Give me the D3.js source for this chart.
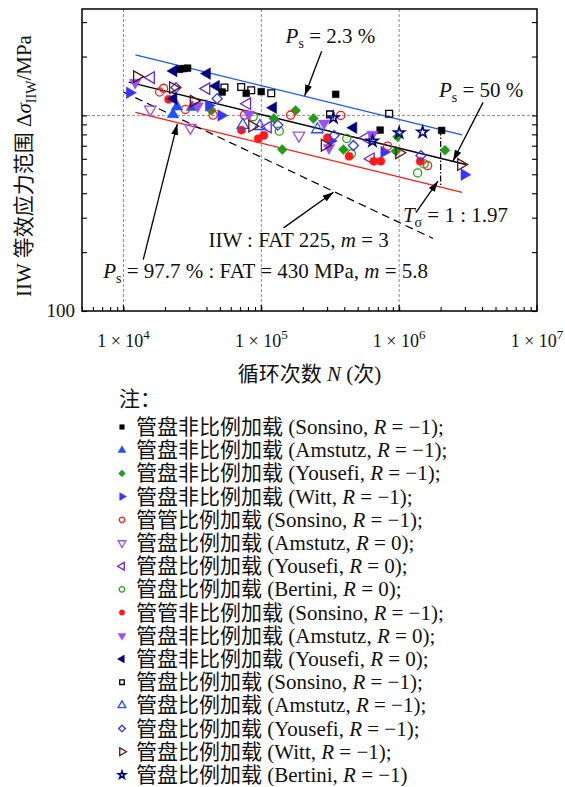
<!DOCTYPE html>
<html><head><meta charset="utf-8">
<script src="https://cdn.jsdelivr.net/npm/d3@7"></script>
<style>body{margin:0;background:#fff}svg{display:block}</style>
</head><body><svg id="c" width="565" height="787"></svg>
<script>
// ---------------- data (N cycles, equivalent stress range MPa) ----------------
const sonsinoNP_TF = [[25500,1720],[27300,1735],[29200,1745],[51950,1317],[77670,1297],[99840,1323],[346400,1282],[727500,841],[2034000,838]];
const amstutzNP_R1 = [[24460,1108],[22870,1012],[31440,1103]];
const yousefiNP_R1 = [[43430,1061],[123300,965],[177300,1061],[238500,965],[141900,669],[394000,669],[973600,778],[946200,656],[2150000,664]];
const wittNP_R1 = [[11100,1307],[41520,1125],[51100,1000],[318700,740],[778000,650],[2970000,498]];
const sonsinoP_TT = [[18270,1317],[19540,1376],[28100,1073],[44690,1004],[75470,1004],[163100,1004],[376700,1000],[823500,696],[1609000,554]];
const amstutzP_R0 = [[15640,1073],[30560,865],[187400,790]];
const yousefiP_R0 = [[15820,1561],[39950,1371],[78980,1148],[111500,871],[572500,769],[622600,600]];
const bertiniP_R0 = [[87310,985],[135000,831],[416600,762],[450600,636],[1520000,565],[1361000,508]];
const sonsinoNP_TT = [[21250,1208],[71780,841],[94950,760],[104300,790],[301500,769],[432900,618],[654600,583],[736100,583],[1421000,583]];
const amstutzNP_R0 = [[12160,1472],[34530,1116],[81110,1012],[284800,910],[640500,799],[309700,683]];
const yousefiNP_R0 = [[23100,1688],[40420,1636],[46990,1414],[23100,1218],[122000,1095],[466000,865]];
const sonsinoP_TF = [[54000,1388],[71420,1397],[84430,1344],[118000,1297],[315000,1012],[845900,1020]];
const amstutzP_R1 = [[73370,892],[97520,881],[255000,848]];
const yousefiP_R1 = [[24050,1388],[47790,1218],[131800,892],[336800,790],[466000,702],[1438000,623]];
const wittP_R1 = [[12520,1579],[22870,1388],[32290,1184],[85860,881],[288200,704],[1000000,644],[2810000,561]];
const bertiniP_R1 = [[333400,973],[1000000,815],[1480000,821],[640500,738]];

// scatter-band lines (end points)
const lineP023 = [[12200,2040],[2860000,796]];
const lineP50 = [[10900,1480],[3050000,561]];
const lineP977 = [[12200,1036],[2860000,404]];
const lineIIW = [[10000,1316],[1760000,235]];
const lineTsigma = [[2000000,847],[2000000,430]];

// legend text
const legendKind = ["管盘非比例加载","管盘非比例加载","管盘非比例加载","管盘非比例加载","管管比例加载","管盘比例加载","管盘比例加载","管盘比例加载","管管非比例加载","管盘非比例加载","管盘非比例加载","管盘比例加载","管盘比例加载","管盘比例加载","管盘比例加载","管盘比例加载"];
const legendAuthor = ["Sonsino","Amstutz","Yousefi","Witt","Sonsino","Amstutz","Yousefi","Bertini","Sonsino","Amstutz","Yousefi","Sonsino","Amstutz","Yousefi","Witt","Bertini"];
const legendR = ["−1","−1","−1","−1","−1","0","0","0","−1","0","0","−1","−1","−1","−1","−1"];
const legendEnd = [";",";",";",";",";",";",";",";",";",";",";",";",";",";",";",""];

const xTickDecades = [1e4,1e5,1e6,1e7];
const xTickExp = ["4","5","6","7"];
const yTickLabels = [100];

// ---------------- styles ----------------
const seriesData = [sonsinoNP_TF,amstutzNP_R1,yousefiNP_R1,wittNP_R1,sonsinoP_TT,amstutzP_R0,yousefiP_R0,bertiniP_R0,sonsinoNP_TT,amstutzNP_R0,yousefiNP_R0,sonsinoP_TF,amstutzP_R1,yousefiP_R1,wittP_R1,bertiniP_R1];
const seriesStyle = [
 {shape:"square",color:"#000000",filled:true},
 {shape:"triUp",color:"#1f50ff",filled:true},
 {shape:"diamond",color:"#239a18",filled:true},
 {shape:"triRight",color:"#3535ff",filled:true},
 {shape:"circle",color:"#ff1a1a",filled:false},
 {shape:"triDown",color:"#9a50f0",filled:false},
 {shape:"triLeft",color:"#6a22cc",filled:false},
 {shape:"circle",color:"#2aa01a",filled:false},
 {shape:"circle",color:"#ff1a1a",filled:true},
 {shape:"triDown",color:"#9a50f0",filled:true},
 {shape:"triLeft",color:"#000080",filled:true},
 {shape:"square",color:"#000000",filled:false},
 {shape:"triUp",color:"#1f50ff",filled:false},
 {shape:"diamond",color:"#3535ff",filled:false},
 {shape:"triRight",color:"#5a1010",filled:false},
 {shape:"star",color:"#000080",filled:false}
];

const FONT = "'Liberation Serif','Times New Roman','Noto Sans CJK SC',serif";
const svg = d3.select("#c");
const L = 82, R = 537, T = 9, B = 311;
const x = d3.scaleLog().domain([5000,1e7]).range([L,R]);
const y = d3.scaleLog().domain([100,3500]).range([B,T]);

const defs = svg.append("defs");
defs.append("marker").attr("id","ah").attr("viewBox","0 0 11 7").attr("refX",11).attr("refY",3.5)
  .attr("markerWidth",11).attr("markerHeight",7).attr("markerUnits","userSpaceOnUse").attr("orient","auto")
  .append("path").attr("d","M0,0L11,3.5L0,7z").attr("fill","#000");
defs.append("clipPath").attr("id","clip").append("rect").attr("x",L).attr("y",T).attr("width",R-L).attr("height",B-T);

// grid
const grid = svg.append("g").attr("stroke","#808080").attr("stroke-width",0.9).attr("stroke-dasharray","3,2");
[1e4,1e5,1e6].forEach(v=>grid.append("line").attr("x1",x(v)).attr("x2",x(v)).attr("y1",T).attr("y2",B));
[1000].forEach(v=>grid.append("line").attr("x1",L).attr("x2",R).attr("y1",y(v)).attr("y2",y(v)));

// ticks via axes
const xMinor = []; for(let e=3;e<=6;e++) for(let k=1;k<=9;k++){const v=k*Math.pow(10,e); if(v>=5000&&v<=1e7) xMinor.push(v);} 
const yMinor = []; for(let e=2;e<=3;e++) for(let k=1;k<=9;k++){const v=k*Math.pow(10,e); if(v>=100&&v<=3500) yMinor.push(v);} 
const axB = svg.append("g").attr("transform",`translate(0,${B})`).call(d3.axisBottom(x).tickValues(xMinor).tickSize(-4).tickFormat(""));
const axL = svg.append("g").attr("transform",`translate(${L},0)`).call(d3.axisLeft(y).tickValues(yMinor).tickSize(-5).tickFormat(""));
const axR = svg.append("g").attr("transform",`translate(${R},0)`).call(d3.axisRight(y).tickValues(yMinor).tickSize(-5).tickFormat(""));
[axB,axL,axR].forEach(a=>{a.select(".domain").remove(); a.selectAll("line").attr("stroke","#000").attr("stroke-width",1.1);});
svg.append("g").selectAll("line").data(xTickDecades).join("line")
  .attr("x1",d=>x(d)).attr("x2",d=>x(d)).attr("y1",B).attr("y2",B-6).attr("stroke","#000").attr("stroke-width",1.2);

// frame
svg.append("rect").attr("x",L).attr("y",T).attr("width",R-L).attr("height",B-T).attr("fill","none").attr("stroke","#000").attr("stroke-width",1.5);

// tick labels
const xl = svg.append("g").attr("font-family",FONT).attr("font-size",18).attr("fill","#111");
xTickDecades.forEach((v,i)=>{
  const t = xl.append("text").attr("x",x(v)).attr("y",347).attr("text-anchor","middle");
  t.append("tspan").text("1 × 10");
  t.append("tspan").attr("dy",-8).attr("font-size",13).text(xTickExp[i]);
});
svg.append("g").selectAll("text").data(yTickLabels).join("text")
  .attr("x",L-7).attr("y",d=>y(d)+6).attr("text-anchor","end").attr("font-family",FONT).attr("font-size",19).attr("fill","#111").text(d=>d);

// axis titles
const xt = svg.append("text").attr("x",(L+R)/2).attr("y",381).attr("text-anchor","middle").attr("font-family",FONT).attr("font-size",21).attr("fill","#111");
xt.append("tspan").text("循环次数 ");
xt.append("tspan").attr("font-style","italic").text("N");
xt.append("tspan").text(" (次)");
const yt = svg.append("text").attr("transform",`translate(31,166) rotate(-90)`).attr("text-anchor","middle").attr("font-family",FONT).attr("font-size",21).attr("fill","#111");
yt.append("tspan").text("IIW 等效应力范围 Δ");
yt.append("tspan").attr("font-style","italic").text("σ");
yt.append("tspan").attr("font-size",14).attr("dy",5).text("IIW");
yt.append("tspan").attr("dy",-5).text("/MPa");

// lines
const plot = svg.append("g").attr("clip-path","url(#clip)");
const ln = d3.line().x(d=>x(d[0])).y(d=>y(d[1]));
plot.append("path").attr("d",ln(lineP023)).attr("stroke","#1a55ff").attr("stroke-width",1.3).attr("fill","none");
plot.append("path").attr("d",ln(lineP977)).attr("stroke","#ff1a1a").attr("stroke-width",1.3).attr("fill","none");
plot.append("path").attr("d",ln(lineP50)).attr("stroke","#000").attr("stroke-width",1.4).attr("fill","none");
plot.append("path").attr("d",ln(lineIIW)).attr("stroke","#000").attr("stroke-width",1.2).attr("stroke-dasharray","8,5").attr("fill","none");
plot.append("path").attr("d",ln(lineTsigma)).attr("stroke","#000").attr("stroke-width",1.2).attr("stroke-dasharray","6,2,1.5,2").attr("fill","none");

// markers
function symPath(shape,size){
  const m = {circle:d3.symbolCircle,square:d3.symbolSquare,diamond:d3.symbolSquare,star:d3.symbolStar,
    triUp:d3.symbolTriangle,triDown:d3.symbolTriangle,triLeft:d3.symbolTriangle,triRight:d3.symbolTriangle};
  return d3.symbol().type(m[shape]).size(size)();
}
const rot = {circle:0,square:0,diamond:45,star:0,triUp:0,triDown:180,triLeft:-90,triRight:90};
const baseSize = {circle:52,square:46,diamond:50,star:38,triUp:58,triDown:58,triLeft:58,triRight:58};
function drawSym(g,shape,st,px,py,scale){
  g.append("path").attr("d",symPath(shape,baseSize[shape]*scale))
    .attr("transform",`translate(${px},${py}) rotate(${rot[shape]})`)
    .attr("fill",st.filled?st.color:"none").attr("stroke",st.color)
    .attr("stroke-width",st.filled?0.5:(shape==="star"?1.6:1.3));
}
const mg = plot.append("g");
seriesData.forEach((data,i)=>{
  const st = seriesStyle[i];
  data.forEach(d=>drawSym(mg,st.shape,st,x(d[0]),y(d[1]),1));
});

// annotations (anchored in data coordinates)
const annArrows = [
  [[274000,2128],[206200,1262]],
  [[4062000,1166],[2458000,585]],
  [[1323000,318],[1912000,462]],
  [[145000,266],[334000,405]],
  [[13910,183],[24580,905]]
];
const ag = svg.append("g");
annArrows.forEach(a=>ag.append("line").attr("x1",x(a[0][0])).attr("y1",y(a[0][1])).attr("x2",x(a[1][0])).attr("y2",y(a[1][1]))
  .attr("stroke","#000").attr("stroke-width",1.3).attr("marker-end","url(#ah)"));

function richText(N,S,parts){
  const t = svg.append("text").attr("x",x(N)).attr("y",y(S)).attr("font-family",FONT).attr("font-size",21).attr("fill","#111");
  parts.forEach(p=>{
    const s = t.append("tspan").text(p.t);
    if(p.i) s.attr("font-style","italic");
    if(p.sub){ s.attr("font-size",14).attr("dy",5); }
    if(p.up){ s.attr("dy",-5); }
  });
}
richText(150000,2339,[{t:"P",i:1},{t:"s",sub:1},{t:" = 2.3 %",up:1}]);
richText(1944000,1237,[{t:"P",i:1},{t:"s",sub:1},{t:" = 50 %",up:1}]);
richText(1064000,286,[{t:"T",i:1},{t:"σ",sub:1},{t:" = 1 : 1.97",up:1}]);
richText(41300,213,[{t:"IIW : FAT 225, "},{t:"m",i:1},{t:" = 3"}]);
richText(7120,147.7,[{t:"P",i:1},{t:"s",sub:1},{t:" = 97.7 % : FAT = 430 MPa, ",up:1},{t:"m",i:1},{t:" = 5.8"}]);

// legend
const lg = svg.append("g").attr("font-family",FONT).attr("font-size",21).attr("fill","#111");
lg.append("text").attr("x",119).attr("y",406).text("注：");
legendKind.forEach((k,i)=>{
  const cy = 427 + i*23.2;
  drawSym(lg,seriesStyle[i].shape,seriesStyle[i],122,cy,0.45);
  const t = lg.append("text").attr("x",136).attr("y",cy+7);
  t.append("tspan").text(k+" ("+legendAuthor[i]+", ");
  t.append("tspan").attr("font-style","italic").text("R");
  t.append("tspan").text(" = "+legendR[i]+")"+legendEnd[i]);
});
</script></body></html>
